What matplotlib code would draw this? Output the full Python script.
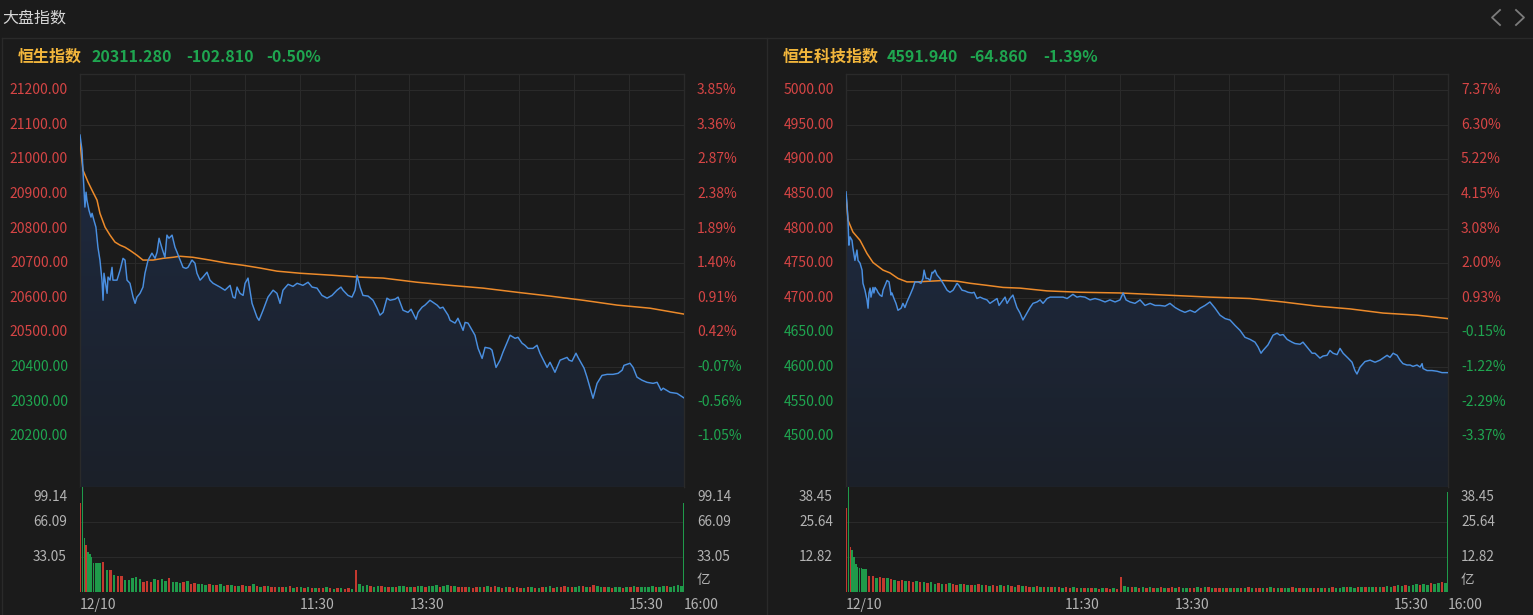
import numpy as np
import matplotlib.pyplot as plt
from matplotlib.lines import Line2D
from matplotlib.colors import LinearSegmentedColormap
from matplotlib.transforms import blended_transform_factory

plt.rcParams['font.family'] = ['Noto Sans CJK SC', 'DejaVu Sans']

# ---- data ----
title = '大盘指数'
session_minutes = 330          # 9:30-12:00 + 13:00-16:00
x_ticks = [0, 120, 180, 300, 330]
x_labels = ['12/10', '11:30', '13:30', '15:30', '16:00']

# 恒生指数
hsi_name = '恒生指数'
hsi_last, hsi_chg, hsi_pct = 20311.280, -102.810, -0.50
hsi_t = [0, 1.1, 1.6, 2.2, 2.7, 3.3, 3.8, 4.9, 6.0, 6.6,
         7.6, 8.7, 9.8, 10.9, 12.0, 12.6, 13.1, 13.7, 14.8, 15.3,
         16.4, 17.5, 18.0, 20.2, 21.9, 23.5, 24.6, 25.7, 27.3, 29.0,
         30.1, 31.1, 32.8, 34.4, 35.5, 37.2, 39.3, 41.0, 42.1, 43.2,
         44.8, 46.4, 47.5, 48.6, 50.3, 51.9, 53.0, 54.1, 56.3, 57.9,
         59.0, 61.2, 62.8, 63.9, 65.6, 67.2, 69.4, 71.0, 72.7, 76.5,
         79.2, 82.0, 83.6, 84.7, 85.8, 87.4, 89.1, 90.2, 91.8, 94.0,
         96.7, 97.8, 100.0, 102.7, 105.5, 107.6, 109.3, 110.9, 113.7, 116.4,
         118.6, 121.8, 124.6, 126.8, 129.5, 132.2, 135.0, 137.7, 140.4, 142.6,
         143.7, 146.4, 148.6, 150.3, 151.4, 153.0, 154.6, 157.4, 160.1, 162.3,
         163.9, 165.6, 167.7, 169.4, 172.1, 173.8, 176.5, 179.2, 180.9, 182.0,
         183.6, 184.7, 186.9, 188.5, 191.2, 192.9, 195.1, 196.7, 198.3, 201.1,
         202.2, 204.9, 206.5, 209.3, 210.4, 212.0, 215.8, 217.5, 219.7, 221.3,
         224.0, 225.1, 227.3, 229.5, 231.1, 235.0, 237.7, 239.3, 241.5, 243.1,
         244.8, 247.5, 249.7, 251.3, 255.2, 256.8, 259.5, 262.3, 266.1, 267.2,
         268.8, 271.0, 272.1, 275.4, 277.0, 280.3, 282.5, 285.2, 288.0, 291.2,
         294.0, 296.2, 297.2, 300.5, 302.2, 304.3, 307.1, 309.8, 313.1, 315.3,
         317.5, 318.6, 322.4, 326.2, 330.0]
hsi_price = [21070, 21026, 20969, 20911, 20862, 20905, 20882, 20853, 20833, 20844,
             20824, 20804, 20746, 20709, 20651, 20593, 20671, 20651, 20613, 20660,
             20651, 20688, 20651, 20651, 20680, 20714, 20709, 20651, 20642, 20602,
             20584, 20602, 20613, 20631, 20671, 20709, 20729, 20714, 20732, 20772,
             20743, 20717, 20781, 20772, 20781, 20746, 20732, 20717, 20688, 20685,
             20688, 20709, 20700, 20671, 20651, 20660, 20674, 20651, 20642, 20631,
             20622, 20636, 20602, 20599, 20631, 20613, 20607, 20642, 20657, 20584,
             20544, 20535, 20564, 20602, 20622, 20613, 20584, 20622, 20639, 20633,
             20642, 20636, 20645, 20631, 20628, 20607, 20599, 20607, 20622, 20631,
             20622, 20607, 20602, 20622, 20665, 20631, 20607, 20605, 20593, 20570,
             20550, 20558, 20599, 20593, 20596, 20602, 20564, 20558, 20567, 20555,
             20538, 20558, 20573, 20579, 20593, 20587, 20579, 20570, 20573, 20550,
             20535, 20527, 20541, 20506, 20529, 20527, 20492, 20454, 20425, 20457,
             20454, 20449, 20399, 20420, 20443, 20492, 20483, 20486, 20469, 20463,
             20454, 20454, 20463, 20440, 20399, 20414, 20385, 20420, 20428, 20420,
             20417, 20440, 20428, 20397, 20371, 20310, 20353, 20376, 20379, 20379,
             20382, 20391, 20405, 20411, 20399, 20371, 20362, 20356, 20353, 20356,
             20333, 20339, 20327, 20324, 20311]
hsi_avg_t = [0, 1.6, 4.4, 7.1, 9.3, 10.9, 13.7, 16.4, 19.1, 21.9, 24.6, 27.3, 31.1,
             34.4, 39.9, 45.4, 50.8, 54.6, 61.7, 71.0, 80.3, 89.1, 98.4, 107.6, 120.2,
             138.2, 151.4, 165.6, 184.1, 202.2, 220.2, 238.8, 256.8, 274.8, 293.4,
             311.5, 330]
hsi_avg = [21050, 20969, 20934, 20905, 20882, 20844, 20804, 20781, 20761, 20752,
           20746, 20737, 20723, 20709, 20709, 20714, 20717, 20720, 20717, 20709,
           20700, 20694, 20686, 20677, 20671, 20665, 20660, 20657, 20645, 20636,
           20628, 20616, 20605, 20593, 20579, 20570, 20553]
hsi_levels = [21200, 21100, 21000, 20900, 20800, 20700, 20600, 20500, 20400, 20300, 20200, 20100]
hsi_level_labels = ['21200.00', '21100.00', '21000.00', '20900.00', '20800.00', '20700.00',
                    '20600.00', '20500.00', '20400.00', '20300.00', '20200.00', '']
hsi_pct_labels = ['3.85%', '3.36%', '2.87%', '2.38%', '1.89%', '1.40%', '0.91%', '0.42%',
                  '-0.07%', '-0.56%', '-1.05%', '']
# volume (亿): first ten minutes minute by minute, then every two minutes, then closing auction
hsi_vol = [84, 99.14, 51, 44, 38, 36, 33, 27, 27, 27,
           27, 28, 21, 21, 16, 15, 15, 11, 11, 13,
           14, 12, 9.5, 10, 9.5, 12, 11, 12, 10, 13,
           9.5, 9, 8.5, 9, 10, 8, 8.5, 7.5, 8, 7,
           7.5, 6.5, 7, 8, 6, 6.5, 7, 5.5, 6, 6.5,
           6, 5.5, 7.5, 6, 5, 5.5, 6, 5, 4.5, 5,
           5, 4.5, 5.5, 4, 4.5, 5, 4, 4.5, 3.5, 4,
           4, 3.5, 4.5, 3.5, 3, 4, 3.5, 3, 3.5, 3,
           21, 8, 6, 6.5, 5.5, 5, 6, 5.5, 4.5, 5,
           5, 4.5, 5.5, 6, 5, 4.5, 5, 6, 5.5, 5,
           5.5, 6, 6.5, 5, 6, 7, 5.5, 6, 5, 4.5,
           5, 4.5, 4, 5, 4.5, 5, 6, 5, 5.5, 4.5,
           4, 4.5, 5, 4, 4.5, 3.5, 4, 5, 4.5, 4,
           4, 5, 4.5, 5.5, 4, 4.5, 5, 6, 5, 4.5,
           5, 5.5, 6, 5, 4.5, 6.5, 5.5, 5, 4.5, 5,
           4, 4.5, 5, 4, 4.5, 5, 5.5, 5, 4.5, 5,
           5, 5.5, 4.5, 5, 5.5, 6, 5, 6, 6.5, 6,
           84]
hsi_vol_dir = ('RGGRGGGGGG' 'GRGRGRRGGG' 'GGRRRGRGGR' 'GGGRGRRGGG' 'RGRGGRGRGR'
               'GRGRGRGRRG' 'RGRGRGRGRG' 'RRGRGRGRRG' 'RGGGRGGRGR' 'GRGGRGRGGR'
               'GGGRGGRGRR' 'RGRRGRGRRG' 'RGRGRRGRGR' 'GRGGRGRRGR' 'GGRGRRGGRG'
               'RGGRGRGRGG' 'GGRGGRGGGG' 'G')
hsi_vol_ticks = [99.14, 66.09, 33.05]

# 恒生科技指数
hst_name = '恒生科技指数'
hst_last, hst_chg, hst_pct = 4591.940, -64.860, -1.39
hst_t = [0, 0.5, 1.1, 1.6, 2.2, 3.3, 3.8, 4.9, 6.0, 6.6,
         7.7, 8.8, 9.3, 10.4, 11.5, 12.1, 12.6, 13.2, 13.7, 14.8,
         15.3, 15.9, 17.0, 17.5, 18.6, 19.7, 20.3, 21.4, 22.5, 23.6,
         24.7, 25.2, 26.3, 27.4, 28.5, 30.2, 31.2, 32.3, 33.4, 35.1,
         36.7, 37.8, 39.5, 41.1, 42.2, 42.8, 43.9, 45.0, 46.1, 47.2,
         47.7, 48.8, 49.9, 51.5, 53.2, 55.4, 57.0, 58.7, 60.9, 61.9,
         63.6, 65.2, 66.9, 69.1, 70.2, 71.8, 73.5, 75.1, 77.3, 78.9,
         80.6, 82.8, 83.9, 86.1, 87.2, 88.3, 89.9, 91.5, 93.7, 95.4,
         97.0, 99.2, 100.9, 102.5, 104.7, 106.4, 108.0, 110.2, 111.9, 115.7,
         119.0, 121.2, 122.8, 124.4, 126.6, 128.3, 131.0, 133.8, 136.5, 139.2,
         142.0, 144.7, 147.5, 150.2, 151.9, 153.5, 155.7, 158.4, 161.2, 163.9,
         166.7, 169.4, 172.1, 174.9, 177.6, 180.4, 183.1, 185.8, 188.6, 191.3,
         194.1, 196.8, 199.5, 202.3, 205.0, 207.8, 210.5, 213.3, 216.0, 218.7,
         221.5, 224.2, 225.9, 227.5, 228.6, 231.3, 234.1, 236.3, 237.9, 239.6,
         241.8, 244.5, 246.1, 248.9, 250.5, 252.7, 255.5, 257.1, 259.8, 261.5,
         263.7, 265.3, 267.0, 269.2, 270.8, 272.5, 275.2, 277.4, 279.0, 280.1,
         281.8, 284.5, 287.3, 290.0, 292.7, 294.4, 296.6, 298.2, 299.9, 302.1,
         303.7, 305.3, 307.5, 309.2, 310.8, 313.0, 314.7, 315.8, 316.3, 318.5,
         321.2, 324.0, 326.7, 330.0]
hst_price = [4853, 4837, 4812, 4776, 4788, 4783, 4772, 4754, 4769, 4754,
             4750, 4740, 4721, 4711, 4697, 4685, 4707, 4714, 4701, 4715,
             4707, 4715, 4711, 4708, 4704, 4702, 4711, 4718, 4725, 4723,
             4704, 4707, 4699, 4692, 4682, 4685, 4692, 4686, 4694, 4704,
             4714, 4723, 4723, 4721, 4728, 4740, 4728, 4728, 4725, 4737,
             4736, 4740, 4733, 4728, 4721, 4711, 4708, 4711, 4721, 4718,
             4711, 4710, 4708, 4707, 4708, 4699, 4701, 4699, 4697, 4692,
             4695, 4699, 4689, 4697, 4701, 4692, 4699, 4704, 4686, 4678,
             4668, 4678, 4686, 4692, 4694, 4697, 4692, 4699, 4701, 4701,
             4701, 4699, 4702, 4705, 4701, 4702, 4701, 4697, 4699, 4697,
             4694, 4697, 4694, 4697, 4707, 4697, 4694, 4692, 4697, 4689,
             4692, 4689, 4689, 4688, 4692, 4686, 4682, 4679, 4682, 4679,
             4685, 4689, 4694, 4685, 4675, 4670, 4668, 4660, 4653, 4643,
             4640, 4636, 4629, 4620, 4624, 4632, 4646, 4649, 4646, 4647,
             4640, 4636, 4634, 4633, 4636, 4629, 4620, 4620, 4613, 4616,
             4617, 4624, 4620, 4618, 4627, 4620, 4613, 4607, 4595, 4590,
             4600, 4608, 4610, 4607, 4610, 4613, 4617, 4614, 4620, 4617,
             4610, 4605, 4603, 4603, 4601, 4603, 4600, 4605, 4598, 4595,
             4595, 4594, 4592, 4592]
hst_avg_t = [0, 1.1, 3.8, 7.7, 11.5, 14.8, 20.3, 24.1, 28.5, 33.4, 38.9, 46.0, 53.2,
             60.9, 68.0, 77.3, 86.1, 95.4, 110.2, 128.3, 150.2, 174.9, 199.5, 221.5,
             239.6, 258.2, 276.3, 294.4, 313.0, 330]
hst_avg = [4848, 4812, 4795, 4783, 4764, 4751, 4740, 4736, 4728, 4723, 4723, 4724, 4725,
           4724, 4721, 4718, 4715, 4714, 4710, 4708, 4707, 4704, 4701, 4699, 4694, 4688,
           4684, 4678, 4675, 4670]
hst_levels = [5000, 4950, 4900, 4850, 4800, 4750, 4700, 4650, 4600, 4550, 4500, 4450]
hst_level_labels = ['5000.00', '4950.00', '4900.00', '4850.00', '4800.00', '4750.00',
                    '4700.00', '4650.00', '4600.00', '4550.00', '4500.00', '']
hst_pct_labels = ['7.37%', '6.30%', '5.22%', '4.15%', '3.08%', '2.00%', '0.93%',
                  '-0.15%', '-1.22%', '-2.29%', '-3.37%', '']
hst_vol = [30.8, 38.45, 16.5, 15.4, 12.8, 10.2, 9, 8.8, 8.8, 8.5,
           8.5, 5.9, 6, 5.1, 5.5, 5, 5.2, 4.8, 4.5, 4.2,
           4.5, 4, 4.2, 3.8, 4, 3.5, 3.8, 3.2, 3.5, 3,
           3.2, 3, 2.8, 3.2, 3, 2.6, 2.8, 3, 2.5, 2.7,
           2.6, 2.8, 2.4, 2.6, 2.2, 2.5, 2.3, 2.6, 2.2, 2.4,
           2.2, 2, 2.4, 2.1, 2.3, 2, 1.8, 2.1, 1.9, 2,
           1.8, 2, 1.7, 1.9, 1.6, 1.8, 1.5, 1.7, 1.6, 1.4,
           1.5, 1.3, 1.6, 1.4, 1.2, 1.5, 1.3, 1.2, 1.4, 1.2,
           5.5, 2.2, 1.8, 2, 1.7, 1.6, 1.9, 1.5, 1.7, 1.6,
           1.5, 1.8, 1.6, 1.4, 1.7, 1.5, 1.8, 1.6, 1.4, 1.5,
           1.6, 1.8, 1.5, 2, 1.7, 1.5, 1.4, 1.6, 1.5, 1.3,
           1.4, 1.6, 1.5, 1.3, 1.5, 1.7, 1.6, 1.4, 1.5, 1.6,
           1.5, 1.7, 1.4, 1.6, 1.5, 1.3, 1.6, 1.8, 1.5, 1.4,
           1.3, 1.6, 1.4, 1.5, 1.3, 1.4, 1.6, 1.5, 1.7, 1.5,
           1.6, 1.8, 2, 1.7, 1.6, 1.9, 1.7, 1.8, 2, 1.8,
           1.7, 2, 1.8, 2.2, 1.9, 2.1, 2.4, 2.2, 2.5, 2.3,
           2.4, 2.8, 2.5, 3, 2.7, 3.2, 3, 3.3, 3.5, 3.2,
           36.6]
hst_vol_dir = ('RGRGGGGGGG' 'GRRGRRGRGR' 'RGRRGRGRGG' 'RGRGRRGRGR' 'GRGRGRRGRG'
               'RGRGRRGRGR' 'GRGRGRRGRG' 'RGRGRGRRGR' 'RGGRGRGRGR' 'GRGRRGRGGR'
               'RGRGRGRRGR' 'GRGRGRGRRG' 'RGRGRGGRGR' 'GRGRRGRGRG' 'GGRGGRGRGG'
               'RGRGGRGGRG' 'GGRGGRGGRG' 'G')
hst_vol_ticks = [38.45, 25.64, 12.82]

# ---- styling ----
W, H = 1533, 615
BG = '#1b1b1b'
GRID = '#2a2a2a'
RED = '#d64545'
GREEN = '#1fa650'
BLUE = '#4a8fe0'
ORANGE = '#ec8a2a'
YELLOW = '#f2b63c'
GREY = '#b4b4b4'
BAR_COL = {'R': '#c4392f', 'G': '#1f9a4a'}

fig = plt.figure(figsize=(W / 100, H / 100), dpi=100, facecolor=BG)


def fx(x):
    return x / W


def fy(y):
    return 1 - y / H


def fig_line(xs, ys, **kw):
    fig.add_artist(Line2D([fx(v) for v in xs], [fy(v) for v in ys], **kw))


fig.text(fx(2), fy(18), title, color='#d6d6d6', fontsize=11.5, va='center', ha='left')
fig_line([1500, 1492, 1500], [10, 17.5, 25], color='#7c7c7c', lw=1.3)
fig_line([1516, 1524, 1516], [10, 17.5, 25], color='#7c7c7c', lw=1.3)
fig_line([2, W], [38, 38], color=GRID, lw=1)
fig_line([767, 767], [38, H], color=GRID, lw=1)
fig_line([2, 2], [38, H], color=GRID, lw=1)

fill_cmap = LinearSegmentedColormap.from_list('fill', ['#1b2029', '#1e2a40'])


def draw_panel(x0, x1, name, head_x, last, chg, pct, t, price, avg_t, avg,
               levels, level_labels, pct_labels, vol, vol_dir, vol_ticks):
    prev = last - chg
    step = levels[0] - levels[1]
    pad = step * 16 / 34.6
    ylo, yhi = levels[-1] - pad, levels[0] + pad

    # header
    hc = GREEN if chg < 0 else RED
    fig.text(fx(head_x[0]), fy(57), name, color=YELLOW, fontsize=11.5,
             fontweight='bold', va='center')
    fig.text(fx(head_x[1]), fy(57), f'{last:.3f}', color=hc, fontsize=11.5,
             fontweight='bold', va='center')
    fig.text(fx(head_x[2]), fy(57), f'{chg:.3f}', color=hc, fontsize=11.5,
             fontweight='bold', va='center')
    fig.text(fx(head_x[3]), fy(57), f'{pct:.2f}%', color=hc, fontsize=11.5,
             fontweight='bold', va='center')

    # price panel
    ax = fig.add_axes([fx(x0), fy(487), (x1 - x0) / W, 413 / H])
    ax.set_facecolor(BG)
    ax.set_xlim(0, session_minutes)
    ax.set_ylim(ylo, yhi)
    ax.set_xticks([])
    ax.set_yticks([])
    for s in ax.spines.values():
        s.set_color(GRID)
        s.set_linewidth(1)
    for lv in levels:
        ax.axhline(lv, color=GRID, lw=0.8, zorder=0)
    for m in range(0, session_minutes + 1, 30):
        ax.axvline(m, color=GRID, lw=0.8, zorder=0)

    poly = ax.fill_between(t, price, ylo, color='none', lw=0)
    grad = np.linspace(0, 1, 256).reshape(-1, 1)
    im = ax.imshow(grad, extent=[0, session_minutes, ylo, max(price)], origin='lower',
                   aspect='auto', cmap=fill_cmap, zorder=1)
    im.set_clip_path(poly.get_paths()[0], transform=ax.transData)
    ax.plot(avg_t, avg, color=ORANGE, lw=1.1, zorder=3)
    ax.plot(t, price, color=BLUE, lw=1.05, zorder=4)

    tr = blended_transform_factory(ax.transAxes, ax.transData)
    w = x1 - x0
    for lv, lab, pl in zip(levels, level_labels, pct_labels):
        c = RED if lv > prev else GREEN
        ax.text(-12 / w, lv, lab, transform=tr, ha='right', va='center',
                color=c, fontsize=10)
        ax.text(1 + 13 / w, lv, pl, transform=tr, ha='left', va='center',
                color=c, fontsize=10)

    # volume panel
    av = fig.add_axes([fx(x0), fy(592), (x1 - x0) / W, 105 / H])
    av.set_facecolor(BG)
    av.set_xlim(0, session_minutes)
    av.set_ylim(0, vol_ticks[0])
    av.set_xticks([])
    av.set_yticks([])
    for s in av.spines.values():
        s.set_visible(False)
    for v in vol_ticks[1:]:
        av.axhline(v, color=GRID, lw=0.8, zorder=0)
    vt = np.r_[np.arange(10), np.arange(10, session_minutes, 2), session_minutes - 0.8]
    vw = np.where(vt < 10, 0.8, 1.35)
    vw[-1] = 0.8
    av.bar(vt, vol, width=vw, align='edge', color=[BAR_COL[d] for d in vol_dir],
           lw=0, zorder=2)
    trv = blended_transform_factory(av.transAxes, av.transData)
    for i, v in enumerate(vol_ticks):
        va = 'top' if i == 0 else 'center'
        yv = v * 0.975 if i == 0 else v
        av.text(-13 / w, yv, f'{v:.2f}', transform=trv, ha='right', va=va,
                color=GREY, fontsize=9.8)
        av.text(1 + 13 / w, yv, f'{v:.2f}', transform=trv, ha='left', va=va,
                color=GREY, fontsize=9.8)
    av.text(1 + 13 / w, 12 / 105, '亿', transform=av.transAxes, ha='left',
            va='center', color=GREY, fontsize=9.8)
    trx = blended_transform_factory(av.transData, av.transAxes)
    for m, lab in zip(x_ticks, x_labels):
        av.text(m, -13 / 105, lab, transform=trx, ha='left', va='center',
                color=GREY, fontsize=10)


draw_panel(80, 684, hsi_name, [18, 91, 186, 266], hsi_last, hsi_chg, hsi_pct,
           hsi_t, hsi_price, hsi_avg_t, hsi_avg, hsi_levels, hsi_level_labels,
           hsi_pct_labels, hsi_vol, hsi_vol_dir, hsi_vol_ticks)
draw_panel(846, 1448, hst_name, [783, 887, 969, 1043], hst_last, hst_chg, hst_pct,
           hst_t, hst_price, hst_avg_t, hst_avg, hst_levels, hst_level_labels,
           hst_pct_labels, hst_vol, hst_vol_dir, hst_vol_ticks)

fig.savefig('out.png', dpi=100, facecolor=BG)
